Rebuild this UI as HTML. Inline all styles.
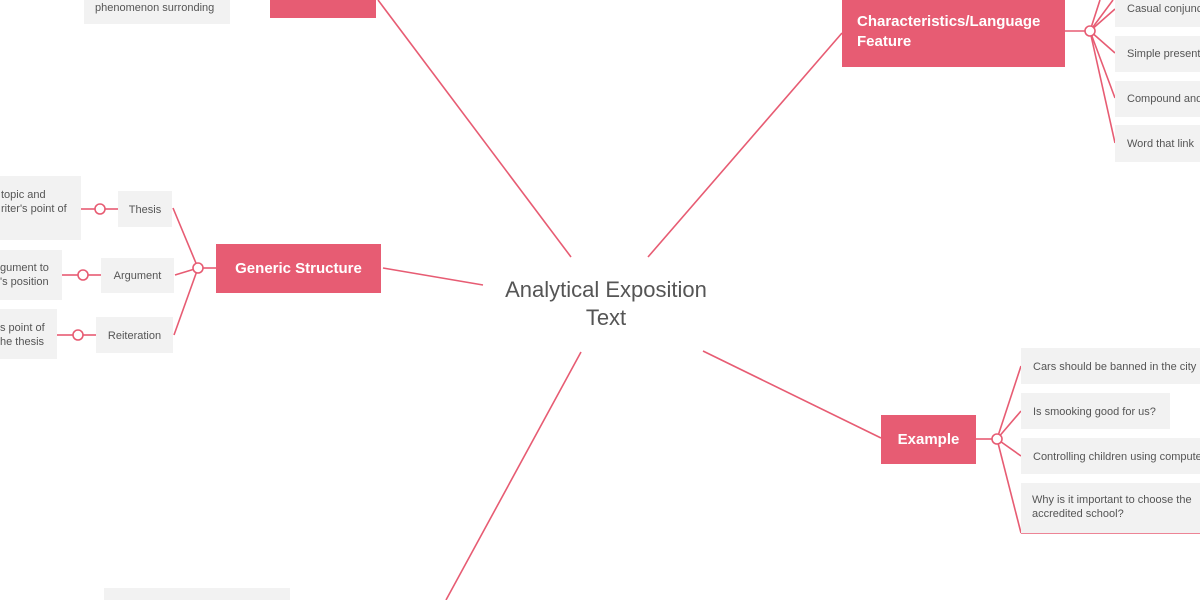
<!DOCTYPE html>
<html><head><meta charset="utf-8"><style>
html,body{margin:0;padding:0;background:#fff;width:1200px;height:600px;overflow:hidden}
svg{display:block}
text{font-family:"Liberation Sans",sans-serif}
.s{font-size:11px;fill:#555}
.w{font-size:15px;fill:#fff;font-weight:bold}
</style></head><body>
<svg width="1200" height="600" viewBox="0 0 1200 600">
<g stroke="#e75c73" stroke-width="1.6" fill="none">
<line x1="378" y1="0" x2="571" y2="257"/>
<line x1="648" y1="257" x2="842" y2="33"/>
<line x1="383" y1="268" x2="483" y2="285"/>
<line x1="703" y1="351" x2="881" y2="438"/>
<line x1="581" y1="352" x2="446" y2="600"/>
<line x1="1065" y1="31" x2="1085" y2="31"/>
<line x1="1090" y1="31" x2="1100" y2="0"/>
<line x1="1090" y1="31" x2="1113" y2="0"/>
<line x1="1090" y1="31" x2="1115" y2="9"/>
<line x1="1090" y1="31" x2="1115" y2="53"/>
<line x1="1090" y1="31" x2="1115" y2="98"/>
<line x1="1090" y1="31" x2="1115" y2="143"/>
<line x1="216" y1="268" x2="203" y2="268"/>
<line x1="198" y1="268" x2="173" y2="208"/>
<line x1="198" y1="268" x2="175" y2="275"/>
<line x1="198" y1="268" x2="174" y2="335"/>
<line x1="118" y1="209" x2="105" y2="209"/>
<line x1="95" y1="209" x2="81" y2="209"/>
<line x1="101" y1="275" x2="88" y2="275"/>
<line x1="78" y1="275" x2="62" y2="275"/>
<line x1="96" y1="335" x2="83" y2="335"/>
<line x1="73" y1="335" x2="57" y2="335"/>
<line x1="976" y1="439" x2="992" y2="439"/>
<line x1="997" y1="439" x2="1021" y2="366"/>
<line x1="997" y1="439" x2="1021" y2="411"/>
<line x1="997" y1="439" x2="1021" y2="456"/>
<line x1="997" y1="439" x2="1021" y2="533"/>
<line x1="1021" y1="533" x2="1200" y2="533"/>
</g>
<g fill="#fff" stroke="#e75c73" stroke-width="1.6">
<circle cx="1090" cy="31" r="5"/>
<circle cx="198" cy="268" r="5"/>
<circle cx="100" cy="209" r="5"/>
<circle cx="83" cy="275" r="5"/>
<circle cx="78" cy="335" r="5"/>
<circle cx="997" cy="439" r="5"/>
</g>
<g fill="#f2f2f2">
<rect x="84" y="-5" width="146" height="29"/>
<rect x="1115" y="-8" width="85" height="35"/>
<rect x="1115" y="36" width="85" height="36"/>
<rect x="1115" y="81" width="85" height="36"/>
<rect x="1115" y="125" width="85" height="37"/>
<rect x="118" y="191" width="54" height="36"/>
<rect x="101" y="258" width="73" height="35"/>
<rect x="96" y="317" width="77" height="36"/>
<rect x="0" y="176" width="81" height="64"/>
<rect x="0" y="250" width="62" height="50"/>
<rect x="0" y="309" width="57" height="50"/>
<rect x="1021" y="348" width="179" height="36"/>
<rect x="1021" y="393" width="149" height="36"/>
<rect x="1021" y="438" width="179" height="36"/>
<rect x="1021" y="483" width="179" height="50"/>
<rect x="104" y="588" width="186" height="12"/>
</g>
<g fill="#e75c73">
<rect x="270" y="-5" width="106" height="23"/>
<rect x="842" y="-5" width="223" height="72"/>
<rect x="216" y="244" width="165" height="49"/>
<rect x="881" y="415" width="95" height="49"/>
</g>
<text class="w" x="857" y="26">Characteristics/Language</text>
<text class="w" x="857" y="46">Feature</text>
<text class="w" x="298.5" y="273" text-anchor="middle">Generic Structure</text>
<text class="w" x="928.5" y="444" text-anchor="middle">Example</text>
<g class="s">
<text x="95" y="11">phenomenon surronding</text>
<text x="1127" y="12">Casual conjunc</text>
<text x="1127" y="57">Simple present</text>
<text x="1127" y="102">Compound and</text>
<text x="1127" y="147">Word that link</text>
<text x="145" y="213" text-anchor="middle">Thesis</text>
<text x="137.5" y="279" text-anchor="middle">Argument</text>
<text x="134.5" y="339" text-anchor="middle">Reiteration</text>
<text x="1" y="198">topic and</text>
<text x="1" y="212">riter's point of</text>
<text x="0" y="271">gument to</text>
<text x="0" y="285">'s position</text>
<text x="0" y="331">s point of</text>
<text x="0" y="345">he thesis</text>
<text x="1033" y="370">Cars should be banned in the city</text>
<text x="1033" y="415">Is smooking good for us?</text>
<text x="1033" y="460">Controlling children using computer</text>
<text x="1032" y="503">Why is it important to choose the</text>
<text x="1032" y="517">accredited school?</text>
</g>
<text x="606" y="297" text-anchor="middle" style="font-size:22px;fill:#555">Analytical Exposition</text>
<text x="606" y="325" text-anchor="middle" style="font-size:22px;fill:#555">Text</text>
</svg>
</body></html>
